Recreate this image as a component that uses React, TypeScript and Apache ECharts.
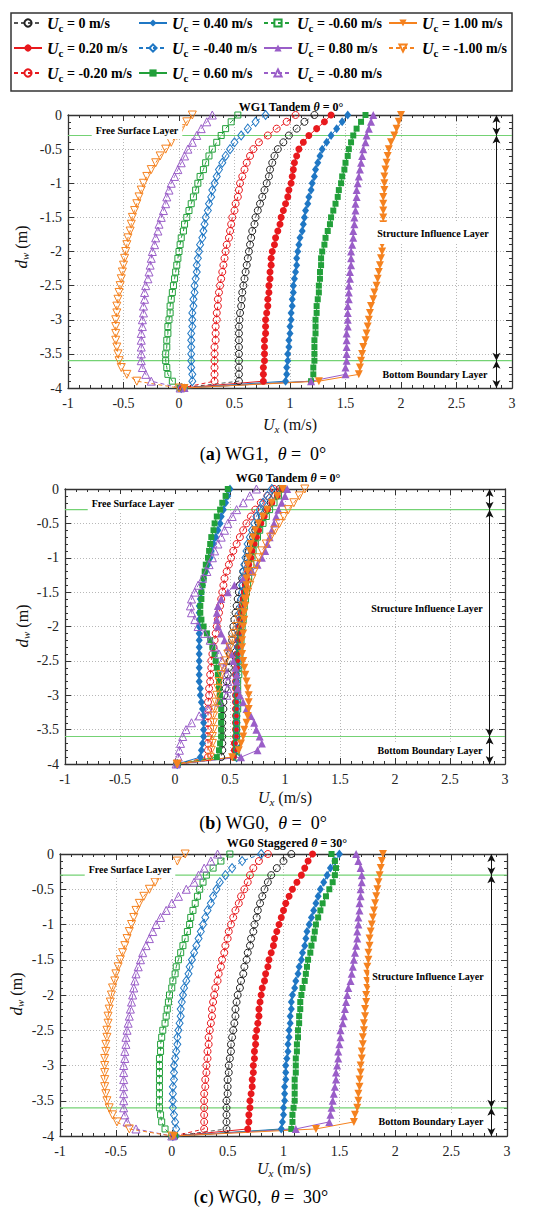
import React, { useEffect, useRef } from 'react';
import * as echarts from 'echarts';

// ---------- DATA ----------
const depths = [0, -0.1, -0.2, -0.3, -0.4, -0.5, -0.6, -0.7, -0.8, -0.9,
  -1.0, -1.1, -1.2, -1.3, -1.4, -1.5, -1.6, -1.7, -1.8, -1.9,
  -2.0, -2.1, -2.2, -2.3, -2.4, -2.5, -2.6, -2.7, -2.8, -2.9,
  -3.0, -3.1, -3.2, -3.3, -3.4, -3.5, -3.6, -3.7, -3.8, -3.9, -4.0];

const ucLabels = ['0', '0.20', '-0.20', '0.40', '-0.40', '0.60', '-0.60', '0.80', '-0.80', '1.00', '-1.00'];

const xTicks = { min: -1, max: 3, step: 0.5 };
const yTicks = { min: -4, max: 0, step: 0.5 };
const layerDepths = [0, -0.3, -3.6, -4];
const arrowX = 2.86;

const panelTitles = ['WG1 Tandem ', 'WG0 Tandem ', 'WG0 Staggered '];
const panelAngles = ['0', '0', '30'];
const panelLetters = ['a', 'b', 'c'];
const panelGauges = ['WG1', 'WG0', 'WG0'];
const layerNames = ['Free Surface Layer', 'Structure Influence Layer', 'Bottom Boundary Layer'];

// Panel (a) WG1 tandem, theta = 0
const aU0 = [1.22, 1.13, 1.06, 0.99, 0.94, 0.89, 0.86, 0.84, 0.82, 0.81, 0.79, 0.77, 0.75, 0.73, 0.71, 0.69, 0.68, 0.66, 0.65, 0.64, 0.63, 0.62, 0.61, 0.60, 0.59, 0.58, 0.57, 0.565, 0.56, 0.55, 0.545, 0.54, 0.54, 0.54, 0.54, 0.54, 0.54, 0.54, 0.54, 0.54, 0.02];
const aU020 = [1.37, 1.31, 1.24, 1.17, 1.12, 1.08, 1.06, 1.04, 1.03, 1.02, 1.01, 0.99, 0.98, 0.96, 0.94, 0.92, 0.91, 0.89, 0.87, 0.86, 0.84, 0.83, 0.83, 0.82, 0.82, 0.81, 0.81, 0.80, 0.80, 0.79, 0.78, 0.78, 0.78, 0.77, 0.77, 0.77, 0.77, 0.76, 0.76, 0.76, 0.03];
const aUm020 = [1.05, 0.97, 0.88, 0.80, 0.72, 0.67, 0.64, 0.61, 0.59, 0.57, 0.55, 0.54, 0.53, 0.51, 0.50, 0.48, 0.47, 0.46, 0.45, 0.43, 0.42, 0.41, 0.40, 0.39, 0.38, 0.37, 0.36, 0.35, 0.35, 0.34, 0.34, 0.33, 0.33, 0.33, 0.32, 0.32, 0.32, 0.32, 0.32, 0.32, 0.02];
const aU040 = [1.52, 1.47, 1.42, 1.37, 1.33, 1.29, 1.27, 1.25, 1.23, 1.22, 1.20, 1.19, 1.17, 1.16, 1.14, 1.13, 1.12, 1.11, 1.09, 1.08, 1.07, 1.06, 1.06, 1.05, 1.04, 1.03, 1.03, 1.02, 1.02, 1.01, 1.01, 1.00, 1.00, 0.99, 0.99, 0.98, 0.98, 0.97, 0.97, 0.96, 0.05];
const aUm040 = [0.78, 0.69, 0.62, 0.56, 0.50, 0.46, 0.42, 0.39, 0.36, 0.34, 0.32, 0.30, 0.29, 0.27, 0.26, 0.24, 0.23, 0.22, 0.21, 0.19, 0.18, 0.17, 0.16, 0.16, 0.15, 0.14, 0.14, 0.13, 0.13, 0.12, 0.12, 0.12, 0.11, 0.11, 0.11, 0.11, 0.11, 0.11, 0.12, 0.12, 0.02];
const aU060 = [1.68, 1.64, 1.60, 1.57, 1.55, 1.53, 1.52, 1.50, 1.49, 1.47, 1.46, 1.44, 1.43, 1.41, 1.39, 1.37, 1.36, 1.34, 1.32, 1.31, 1.29, 1.28, 1.28, 1.27, 1.27, 1.26, 1.26, 1.25, 1.24, 1.24, 1.23, 1.23, 1.23, 1.22, 1.22, 1.22, 1.22, 1.21, 1.21, 1.19, 0.05];
const aUm060 = [0.53, 0.47, 0.42, 0.38, 0.34, 0.30, 0.27, 0.24, 0.22, 0.19, 0.17, 0.15, 0.13, 0.11, 0.09, 0.07, 0.05, 0.04, 0.02, 0.01, 0.00, -0.01, -0.02, -0.03, -0.04, -0.05, -0.06, -0.07, -0.08, -0.08, -0.09, -0.10, -0.10, -0.11, -0.11, -0.12, -0.12, -0.11, -0.10, -0.06, 0.01];
const aU080 = [1.75, 1.73, 1.71, 1.69, 1.68, 1.66, 1.65, 1.64, 1.63, 1.62, 1.61, 1.60, 1.60, 1.59, 1.59, 1.58, 1.58, 1.57, 1.57, 1.56, 1.55, 1.55, 1.55, 1.54, 1.54, 1.53, 1.53, 1.53, 1.52, 1.52, 1.52, 1.52, 1.51, 1.51, 1.51, 1.51, 1.51, 1.50, 1.50, 1.19, 0.05];
const aUm080 = [0.30, 0.25, 0.20, 0.16, 0.12, 0.08, 0.05, 0.02, -0.01, -0.04, -0.07, -0.09, -0.11, -0.12, -0.14, -0.16, -0.18, -0.19, -0.21, -0.22, -0.24, -0.25, -0.26, -0.27, -0.28, -0.30, -0.31, -0.31, -0.32, -0.32, -0.33, -0.33, -0.34, -0.34, -0.34, -0.34, -0.34, -0.33, -0.30, -0.25, 0.01];
const aU100 = [2.00, 1.98, 1.96, 1.94, 1.91, 1.89, 1.88, 1.87, 1.86, 1.85, 1.85, 1.85, 1.84, 1.84, 1.84, 1.84, 1.84, 1.84, 1.84, 1.83, 1.83, 1.82, 1.81, 1.80, 1.79, 1.78, 1.76, 1.75, 1.73, 1.72, 1.71, 1.70, 1.69, 1.68, 1.66, 1.65, 1.64, 1.63, 1.62, 1.26, 0.05];
const aUm100 = [0.12, 0.07, 0.02, -0.02, -0.07, -0.12, -0.17, -0.21, -0.25, -0.29, -0.32, -0.34, -0.36, -0.38, -0.40, -0.42, -0.43, -0.44, -0.46, -0.47, -0.48, -0.49, -0.50, -0.51, -0.52, -0.53, -0.54, -0.55, -0.56, -0.56, -0.57, -0.57, -0.57, -0.57, -0.56, -0.55, -0.54, -0.52, -0.47, -0.38, 0.00];

// Panel (b) WG0 tandem, theta = 0
const bU0 = [0.95, 0.91, 0.87, 0.83, 0.79, 0.76, 0.73, 0.71, 0.69, 0.67, 0.66, 0.64, 0.62, 0.61, 0.59, 0.58, 0.57, 0.56, 0.55, 0.54, 0.53, 0.52, 0.52, 0.51, 0.50, 0.50, 0.49, 0.48, 0.47, 0.46, 0.45, 0.44, 0.44, 0.43, 0.43, 0.43, 0.43, 0.43, 0.43, 0.42, 0.02];
const bU020 = [0.97, 0.93, 0.88, 0.84, 0.81, 0.78, 0.76, 0.74, 0.72, 0.70, 0.69, 0.67, 0.66, 0.65, 0.64, 0.63, 0.62, 0.61, 0.60, 0.59, 0.58, 0.58, 0.57, 0.57, 0.56, 0.56, 0.56, 0.55, 0.55, 0.55, 0.55, 0.55, 0.55, 0.55, 0.55, 0.55, 0.55, 0.54, 0.54, 0.53, 0.02];
const bUm020 = [0.90, 0.84, 0.78, 0.73, 0.69, 0.65, 0.62, 0.59, 0.56, 0.53, 0.51, 0.49, 0.47, 0.45, 0.44, 0.43, 0.42, 0.41, 0.40, 0.39, 0.38, 0.37, 0.36, 0.35, 0.34, 0.33, 0.33, 0.32, 0.32, 0.31, 0.31, 0.30, 0.30, 0.30, 0.30, 0.30, 0.30, 0.30, 0.30, 0.30, 0.02];
const bU040 = [0.50, 0.48, 0.46, 0.44, 0.42, 0.41, 0.39, 0.37, 0.35, 0.33, 0.32, 0.30, 0.28, 0.26, 0.25, 0.24, 0.23, 0.22, 0.22, 0.22, 0.22, 0.22, 0.22, 0.22, 0.22, 0.22, 0.22, 0.22, 0.22, 0.23, 0.23, 0.24, 0.25, 0.26, 0.26, 0.26, 0.26, 0.25, 0.24, 0.23, 0.02];
const bUm040 = [0.88, 0.84, 0.80, 0.77, 0.74, 0.72, 0.70, 0.68, 0.66, 0.65, 0.64, 0.63, 0.62, 0.62, 0.61, 0.61, 0.60, 0.60, 0.59, 0.59, 0.58, 0.58, 0.58, 0.57, 0.57, 0.57, 0.57, 0.56, 0.56, 0.56, 0.56, 0.56, 0.56, 0.56, 0.56, 0.56, 0.56, 0.56, 0.56, 0.56, 0.02];
const bU060 = [0.48, 0.46, 0.43, 0.41, 0.38, 0.36, 0.35, 0.33, 0.32, 0.31, 0.30, 0.28, 0.27, 0.26, 0.25, 0.24, 0.24, 0.23, 0.23, 0.24, 0.26, 0.29, 0.32, 0.34, 0.36, 0.37, 0.38, 0.39, 0.40, 0.40, 0.41, 0.41, 0.42, 0.42, 0.42, 0.42, 0.42, 0.41, 0.40, 0.38, 0.02];
const bUm060 = [0.98, 0.94, 0.90, 0.86, 0.83, 0.80, 0.77, 0.75, 0.73, 0.71, 0.70, 0.69, 0.68, 0.67, 0.66, 0.65, 0.64, 0.63, 0.62, 0.62, 0.61, 0.60, 0.60, 0.59, 0.59, 0.58, 0.58, 0.58, 0.57, 0.57, 0.57, 0.57, 0.57, 0.56, 0.56, 0.56, 0.56, 0.56, 0.56, 0.56, 0.02];
const bU080 = [1.02, 1.00, 0.97, 0.94, 0.92, 0.90, 0.88, 0.86, 0.84, 0.82, 0.79, 0.75, 0.70, 0.62, 0.54, 0.48, 0.42, 0.39, 0.38, 0.38, 0.39, 0.42, 0.45, 0.48, 0.51, 0.53, 0.55, 0.56, 0.56, 0.57, 0.59, 0.62, 0.65, 0.69, 0.72, 0.74, 0.77, 0.79, 0.75, 0.60, 0.02];
const bUm080 = [0.74, 0.68, 0.62, 0.56, 0.52, 0.48, 0.45, 0.42, 0.39, 0.36, 0.34, 0.31, 0.29, 0.25, 0.21, 0.18, 0.15, 0.14, 0.15, 0.18, 0.21, 0.27, 0.32, 0.36, 0.40, 0.43, 0.45, 0.47, 0.48, 0.48, 0.47, 0.40, 0.30, 0.22, 0.15, 0.10, 0.07, 0.05, 0.04, 0.03, 0.01];
const bU100 = [0.98, 0.93, 0.88, 0.84, 0.80, 0.76, 0.73, 0.71, 0.69, 0.68, 0.67, 0.66, 0.66, 0.65, 0.65, 0.65, 0.64, 0.64, 0.63, 0.63, 0.62, 0.62, 0.61, 0.61, 0.61, 0.62, 0.63, 0.64, 0.65, 0.66, 0.67, 0.67, 0.67, 0.66, 0.65, 0.63, 0.62, 0.60, 0.58, 0.52, 0.02];
const bUm100 = [1.18, 1.13, 1.08, 1.03, 0.99, 0.95, 0.91, 0.87, 0.83, 0.79, 0.76, 0.74, 0.72, 0.70, 0.68, 0.66, 0.64, 0.62, 0.60, 0.58, 0.56, 0.54, 0.52, 0.50, 0.48, 0.46, 0.44, 0.42, 0.40, 0.39, 0.38, 0.37, 0.36, 0.35, 0.35, 0.35, 0.34, 0.34, 0.33, 0.32, 0.02];

// Panel (c) WG0 staggered, theta = 30
const cU0 = [1.07, 1.00, 0.94, 0.89, 0.86, 0.83, 0.81, 0.79, 0.77, 0.76, 0.74, 0.73, 0.71, 0.70, 0.68, 0.67, 0.65, 0.64, 0.62, 0.61, 0.59, 0.58, 0.57, 0.57, 0.56, 0.55, 0.54, 0.53, 0.53, 0.52, 0.51, 0.51, 0.50, 0.50, 0.50, 0.49, 0.49, 0.49, 0.49, 0.49, 0.02];
const cU020 = [1.26, 1.22, 1.19, 1.16, 1.12, 1.08, 1.05, 1.02, 1.00, 0.98, 0.96, 0.94, 0.92, 0.91, 0.89, 0.87, 0.86, 0.84, 0.83, 0.81, 0.80, 0.79, 0.78, 0.78, 0.77, 0.76, 0.75, 0.75, 0.74, 0.74, 0.73, 0.73, 0.72, 0.72, 0.71, 0.70, 0.70, 0.69, 0.69, 0.68, 0.03];
const cUm020 = [0.86, 0.78, 0.73, 0.70, 0.68, 0.65, 0.62, 0.60, 0.57, 0.55, 0.53, 0.51, 0.50, 0.48, 0.47, 0.45, 0.44, 0.42, 0.41, 0.39, 0.38, 0.37, 0.36, 0.36, 0.35, 0.34, 0.33, 0.33, 0.32, 0.32, 0.31, 0.31, 0.30, 0.30, 0.29, 0.29, 0.29, 0.29, 0.29, 0.29, 0.02];
const cU040 = [1.50, 1.46, 1.42, 1.39, 1.36, 1.33, 1.31, 1.29, 1.27, 1.25, 1.23, 1.21, 1.20, 1.19, 1.17, 1.16, 1.14, 1.13, 1.11, 1.10, 1.08, 1.07, 1.07, 1.06, 1.06, 1.05, 1.05, 1.04, 1.04, 1.03, 1.02, 1.02, 1.02, 1.01, 1.01, 1.01, 1.00, 1.00, 0.99, 0.98, 0.04];
const cUm040 = [0.80, 0.63, 0.54, 0.48, 0.43, 0.40, 0.37, 0.35, 0.32, 0.30, 0.28, 0.26, 0.24, 0.22, 0.20, 0.18, 0.16, 0.15, 0.13, 0.11, 0.10, 0.09, 0.08, 0.08, 0.07, 0.06, 0.05, 0.05, 0.04, 0.03, 0.02, 0.02, 0.02, 0.01, 0.01, 0.01, 0.01, 0.02, 0.03, 0.04, 0.01];
const cU060 = [1.43, 1.46, 1.47, 1.46, 1.44, 1.41, 1.38, 1.35, 1.33, 1.31, 1.29, 1.28, 1.27, 1.25, 1.24, 1.22, 1.21, 1.20, 1.19, 1.17, 1.16, 1.15, 1.15, 1.14, 1.14, 1.13, 1.13, 1.12, 1.12, 1.11, 1.11, 1.11, 1.10, 1.10, 1.10, 1.10, 1.09, 1.08, 1.08, 1.07, 0.03];
const cUm060 = [0.52, 0.44, 0.37, 0.31, 0.28, 0.25, 0.23, 0.21, 0.19, 0.17, 0.16, 0.14, 0.12, 0.10, 0.08, 0.06, 0.04, 0.03, 0.01, 0.00, -0.02, -0.03, -0.04, -0.05, -0.06, -0.08, -0.09, -0.10, -0.10, -0.11, -0.11, -0.11, -0.11, -0.11, -0.11, -0.11, -0.11, -0.10, -0.09, -0.06, 0.00];
const cU080 = [1.65, 1.67, 1.69, 1.70, 1.70, 1.69, 1.69, 1.68, 1.68, 1.67, 1.67, 1.66, 1.66, 1.65, 1.64, 1.63, 1.62, 1.61, 1.60, 1.58, 1.57, 1.56, 1.55, 1.54, 1.53, 1.51, 1.51, 1.50, 1.49, 1.49, 1.48, 1.47, 1.47, 1.46, 1.45, 1.44, 1.43, 1.42, 1.41, 1.11, 0.02];
const cUm080 = [0.41, 0.35, 0.29, 0.24, 0.20, 0.13, 0.06, 0.00, -0.05, -0.10, -0.14, -0.17, -0.20, -0.23, -0.26, -0.28, -0.30, -0.32, -0.33, -0.34, -0.35, -0.36, -0.37, -0.38, -0.39, -0.40, -0.41, -0.41, -0.42, -0.42, -0.43, -0.43, -0.43, -0.43, -0.43, -0.43, -0.43, -0.42, -0.40, -0.32, 0.00];
const cU100 = [1.89, 1.88, 1.87, 1.86, 1.85, 1.84, 1.83, 1.82, 1.81, 1.80, 1.79, 1.78, 1.77, 1.77, 1.76, 1.76, 1.75, 1.75, 1.75, 1.75, 1.74, 1.74, 1.73, 1.73, 1.72, 1.72, 1.71, 1.71, 1.70, 1.70, 1.69, 1.69, 1.68, 1.68, 1.67, 1.67, 1.66, 1.64, 1.63, 1.29, 0.02];
const cUm100 = [0.12, 0.05, -0.03, -0.10, -0.15, -0.20, -0.25, -0.29, -0.32, -0.34, -0.36, -0.38, -0.40, -0.42, -0.44, -0.46, -0.48, -0.50, -0.51, -0.53, -0.54, -0.55, -0.56, -0.57, -0.57, -0.58, -0.58, -0.59, -0.59, -0.60, -0.60, -0.60, -0.60, -0.60, -0.59, -0.58, -0.56, -0.53, -0.49, -0.38, 0.00];

const panelA = [aU0, aU020, aUm020, aU040, aUm040, aU060, aUm060, aU080, aUm080, aU100, aUm100];
const panelB = [bU0, bU020, bUm020, bU040, bUm040, bU060, bUm060, bU080, bUm080, bU100, bUm100];
const panelC = [cU0, cU020, cUm020, cU040, cUm040, cU060, cUm060, cU080, cUm080, cU100, cUm100];
const panels = [panelA, panelB, panelC];

// ---------- STYLE ----------
const FONT = 'Liberation Serif, Times New Roman, serif';
const DOWN = 'path://M0,0L10,0L5,9Z';
const RED = '#e8191d', BLUE = '#1f77c4', GREEN = '#22a03a', PURPLE = '#9a5ec8', ORANGE = '#f5821f', BLACK = '#222';
const seriesStyles = [
  { color: BLACK, line: '#555', symbol: 'circle', size: 7, filled: false },
  { color: RED, line: RED, symbol: 'circle', size: 7, filled: true },
  { color: RED, line: RED, symbol: 'circle', size: 7, filled: false },
  { color: BLUE, line: BLUE, symbol: 'diamond', size: [7, 9], filled: true },
  { color: BLUE, line: BLUE, symbol: 'diamond', size: [7, 9], filled: false },
  { color: GREEN, line: GREEN, symbol: 'rect', size: 6, filled: true },
  { color: GREEN, line: GREEN, symbol: 'rect', size: 6, filled: false },
  { color: PURPLE, line: PURPLE, symbol: 'triangle', size: 8, filled: true },
  { color: PURPLE, line: PURPLE, symbol: 'triangle', size: 8, filled: false },
  { color: ORANGE, line: ORANGE, symbol: DOWN, size: 8, filled: true },
  { color: ORANGE, line: ORANGE, symbol: DOWN, size: 8, filled: false },
];

const grids = [
  { left: 68, top: 115, width: 444, height: 273 },
  { left: 65, top: 489, width: 440, height: 275 },
  { left: 60, top: 854, width: 447, height: 282 },
];
const titlePos = [[291, 107], [288, 478], [287, 843]];
const yNamePos = [[21, 247], [22, 626], [16, 994]];
const xNamePos = [[290, 424], [285, 797], [284, 1168]];
const captionPos = [[263, 454], [263, 823], [261, 1197]];
const layerLabelPos = [
  [[137, 130], [433, 233], [435, 374]],
  [[133, 503], [427, 608], [430, 750]],
  [[130, 869], [428, 976], [431, 1121]],
];
const layerLabelPad = [
  [[3, 4, 5, 4], [6, 3, 6, 3], [2, 3, 2, 3]],
  [[2, 4, 6, 4], [2, 3, 2, 3], [2, 3, 2, 3]],
  [[2, 4, 6, 4], [5, 3, 5, 3], [2, 3, 2, 3]],
];
const legendRowY = [25, 50, 75];
const legendColX = [13, 138, 263, 388];

const seriesName = (v: string) => `Uc = ${v} m/s`;

function buildOption() {
  const xAxis: any[] = [];
  const yAxis: any[] = [];
  const tickLine = { color: '#333', width: 1 };
  grids.forEach((g, gi) => {
    const base = {
      type: 'value', gridIndex: gi, min: xTicks.min, max: xTicks.max, interval: xTicks.step,
      axisLine: { show: true, onZero: false, lineStyle: { color: '#333', width: 1.3 } },
      axisTick: { show: true, inside: true, length: 6, lineStyle: tickLine },
      minorTick: { show: true, splitNumber: 5, length: 3, lineStyle: tickLine },
    };
    xAxis.push({
      ...base, position: 'bottom',
      axisLabel: { fontFamily: FONT, fontSize: 14, color: '#222', margin: 8 },
      splitLine: { show: true, lineStyle: { color: '#b8b8b8', type: [1, 2], width: 1 } },
    });
    xAxis.push({ ...base, position: 'top', axisLabel: { show: false }, splitLine: { show: false } });
    const ybase = { ...base, min: yTicks.min, max: yTicks.max, interval: yTicks.step };
    yAxis.push({
      ...ybase, position: 'left',
      axisLabel: { fontFamily: FONT, fontSize: 14, color: '#222', margin: 6 },
      splitLine: { show: true, lineStyle: { color: '#b8b8b8', type: [1, 2], width: 1 } },
    });
    yAxis.push({ ...ybase, position: 'right', axisLabel: { show: false }, splitLine: { show: false } });
  });

  const series: any[] = [];
  panels.forEach((panel, gi) => {
    series.push({
      type: 'line', name: 'fsl', xAxisIndex: gi * 2, yAxisIndex: gi * 2, z: 1, silent: true,
      symbol: 'none', data: [[xTicks.min, layerDepths[1]], [xTicks.max, layerDepths[1]]],
      lineStyle: { color: '#74d274', width: 1.2 },
    });
    series.push({
      type: 'line', name: 'bbl', xAxisIndex: gi * 2, yAxisIndex: gi * 2, z: 1, silent: true,
      symbol: 'none', data: [[xTicks.min, layerDepths[2]], [xTicks.max, layerDepths[2]]],
      lineStyle: { color: '#74d274', width: 1.2 },
      markLine: {
        silent: true, symbol: ['arrow', 'arrow'], symbolSize: [6, 8],
        label: { show: false }, lineStyle: { color: '#111', width: 1, type: 'solid' },
        data: [0, 1, 2].map((k) => [
          { coord: [arrowX, layerDepths[k]] },
          { coord: [arrowX, layerDepths[k + 1]] },
        ]),
      },
    });
    panel.forEach((vals, si) => {
      const st = seriesStyles[si];
      series.push({
        type: 'line', name: seriesName(ucLabels[si]), xAxisIndex: gi * 2, yAxisIndex: gi * 2,
        data: depths.map((d, i) => [vals[i], d]),
        symbol: st.symbol, symbolSize: st.size, showAllSymbol: true, clip: true, z: 3,
        itemStyle: st.filled
          ? { color: st.color }
          : { color: 'rgba(255,255,255,0)', borderColor: st.color, borderWidth: 1 },
        lineStyle: { color: st.line, width: 1, type: st.filled ? 'solid' : [4, 3] },
        emphasis: { disabled: true },
      });
    });
  });

  const legend = ucLabels.map((v, i) => ({
    data: [seriesName(v)],
    left: legendColX[Math.floor(i / 3)],
    top: legendRowY[i % 3] - 10,
    padding: 0, itemGap: 0, itemWidth: 28, itemHeight: 9,
    selectedMode: false,
    formatter: () => `{u|U}{c|c}{t| = ${v} m/s}`,
    textStyle: {
      color: '#000',
      rich: {
        u: { fontFamily: FONT, fontSize: 16, fontWeight: 'bold', fontStyle: 'italic', color: '#000' },
        c: { fontFamily: FONT, fontSize: 11, fontWeight: 'bold', color: '#000', padding: [9, 0, 0, 0] },
        t: { fontFamily: FONT, fontSize: 14, fontWeight: 'bold', color: '#000' },
      },
    },
  }));

  const txt = (x: number, y: number, text: string, rich: any, extra: any = {}) => ({
    type: 'text', x, y, z: 100, ...extra,
    style: {
      text, rich, align: 'center', verticalAlign: 'middle', textAlign: 'center', textVerticalAlign: 'middle',
      fill: '#000', fontFamily: FONT, ...(extra.style || {}),
    },
  });

  const graphic: any[] = [
    { type: 'rect', z: 100, shape: { x: 11, y: 13, width: 501, height: 78 }, style: { fill: 'none', stroke: '#333', lineWidth: 1.5 } },
  ];
  grids.forEach((g, gi) => {
    graphic.push(txt(titlePos[gi][0], titlePos[gi][1],
      `{b|${panelTitles[gi]}}{i|θ}{b| = ${panelAngles[gi]}°}`,
      {
        b: { fontFamily: FONT, fontSize: 12, fontWeight: 'bold', fill: '#000' },
        i: { fontFamily: FONT, fontSize: 12, fontWeight: 'bold', fontStyle: 'italic', fill: '#000' },
      }));
    graphic.push({
      ...txt(yNamePos[gi][0], yNamePos[gi][1], '{i|d}{s|w}{n| (m)}', {
        i: { fontFamily: FONT, fontSize: 17, fontStyle: 'italic', fill: '#111' },
        s: { fontFamily: FONT, fontSize: 11, fontStyle: 'italic', fill: '#111', padding: [8, 0, 0, 0] },
        n: { fontFamily: FONT, fontSize: 16, fill: '#111' },
      }),
      rotation: Math.PI / 2,
    });
    graphic.push(txt(xNamePos[gi][0], xNamePos[gi][1], '{i|U}{s|x}{n| (m/s)}', {
      i: { fontFamily: FONT, fontSize: 16, fontStyle: 'italic', fill: '#111' },
      s: { fontFamily: FONT, fontSize: 11, fontStyle: 'italic', fill: '#111', padding: [10, 0, 0, 0] },
      n: { fontFamily: FONT, fontSize: 16, fill: '#111' },
    }));
    graphic.push(txt(captionPos[gi][0], captionPos[gi][1],
      `{n|(}{b|${panelLetters[gi]}}{n|) ${panelGauges[gi]},  }{i|θ}{n| =  ${panelAngles[gi]}°}`,
      {
        n: { fontFamily: FONT, fontSize: 18, fill: '#000' },
        b: { fontFamily: FONT, fontSize: 18, fontWeight: 'bold', fill: '#000' },
        i: { fontFamily: FONT, fontSize: 18, fontStyle: 'italic', fill: '#000' },
      }));
    layerNames.forEach((ln, li) => {
      graphic.push({
        type: 'text', x: layerLabelPos[gi][li][0], y: layerLabelPos[gi][li][1], z: 100,
        style: {
          text: ln, fontFamily: FONT, fontSize: 10, fontWeight: 'bold', fill: '#000',
          align: 'center', verticalAlign: 'middle', textAlign: 'center', textVerticalAlign: 'middle',
          backgroundColor: '#fff', padding: layerLabelPad[gi][li],
        },
      });
    });
  });

  return {
    animation: false,
    backgroundColor: '#fff',
    grid: grids.map((g) => ({ ...g, containLabel: false })),
    xAxis, yAxis, series, legend, graphic,
  };
}

export default function App() {
  const ref = useRef<HTMLDivElement>(null);
  useEffect(() => {
    if (!ref.current) return;
    const chart = echarts.init(ref.current, null, { renderer: 'svg' });
    chart.setOption(buildOption() as any);
    return () => chart.dispose();
  }, []);
  return (
    <div
      ref={ref}
      style={{ position: 'absolute', left: 0, top: 0, width: 550, height: 1215, background: '#fff' }}
    />
  );
}
